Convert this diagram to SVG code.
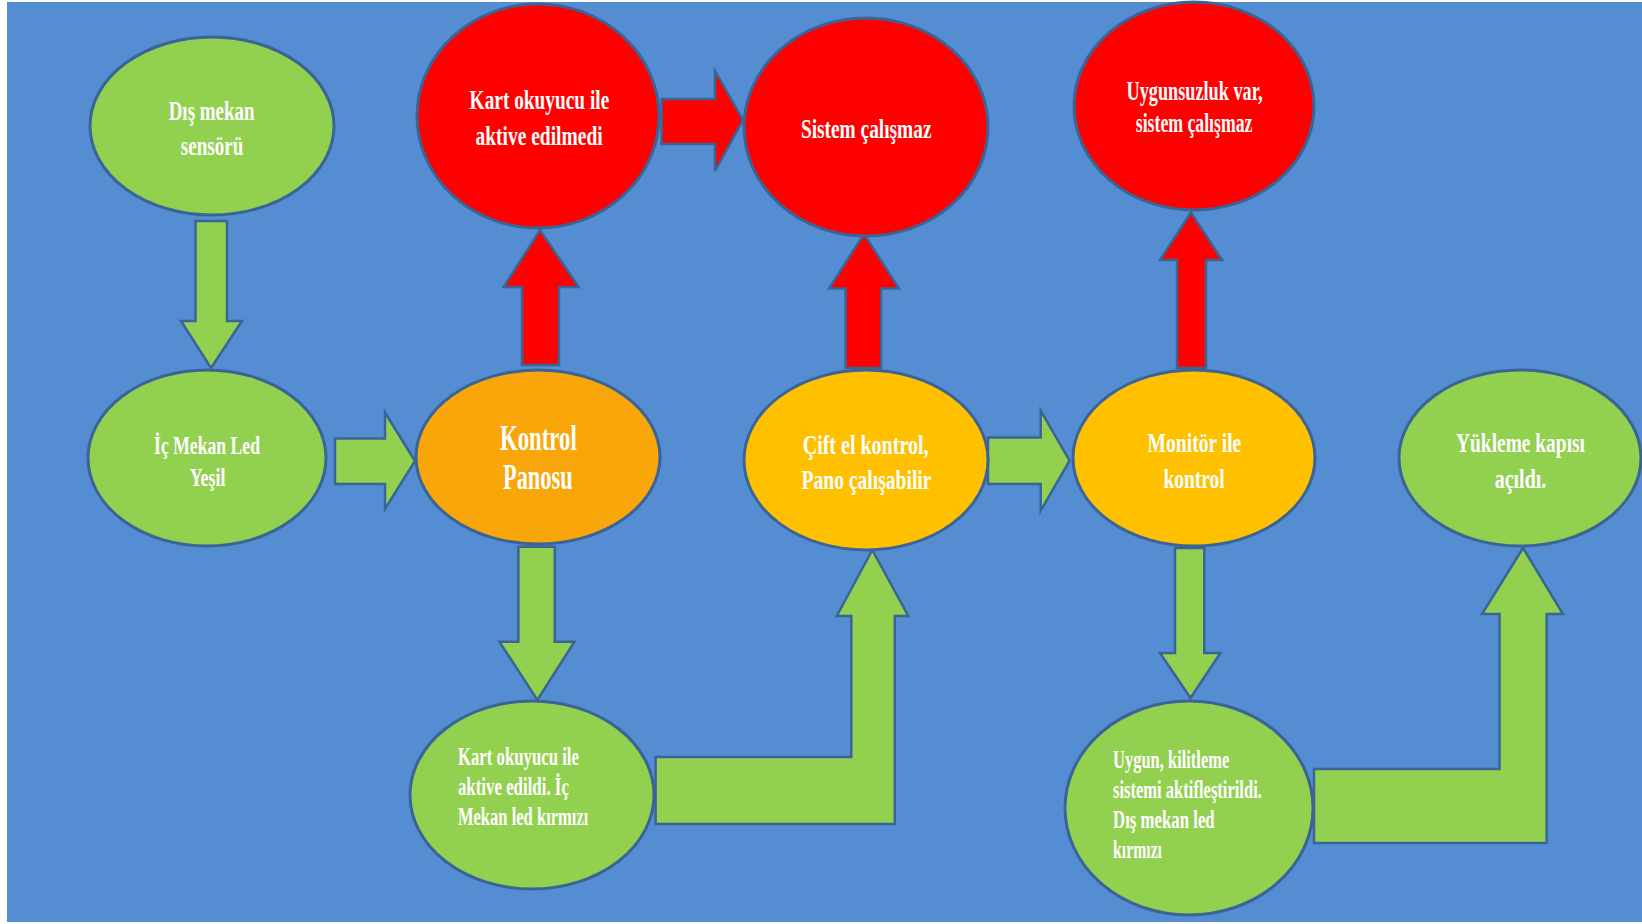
<svg xmlns="http://www.w3.org/2000/svg" width="1642" height="924" viewBox="0 0 1642 924">
<style>
.node{stroke:#3b6496;stroke-width:3}
.g{fill:#92d050}
.r{fill:#ff0000}
.o{fill:#f9a60a}
.y{fill:#ffc000}
.arr{stroke:#3b6496;stroke-width:2.5;stroke-linejoin:miter}
text{font-family:"Liberation Serif","Times New Roman",serif;font-weight:bold;fill:#ffffff}
.c{text-anchor:start}
</style>
<rect x="0" y="0" width="1642" height="924" fill="#ffffff"/>
<rect x="7" y="2" width="1635" height="920" fill="#558dd3"/>

<g id="connectors">
<polygon class="arr g" points="195.5,221 227,221 227,321 242,321 211,368 181,321 195.5,321"/>
<polygon class="arr g" points="335,438.6 385,438.6 385,412.5 415,461 385,509 385,484 335,484"/>
<polygon class="arr r" points="522,365 522,287 503.6,287 540,230 578.6,287 559,287 559,365"/>
<polygon class="arr r" points="661.6,99 715,99 715,71 743,120 715,171 715,144 661.6,144"/>
<polygon class="arr r" points="845.6,368 845.6,288.6 829,288.6 864,234 899,288.6 881,288.6 881,368"/>
<polygon class="arr r" points="1177,368 1177,260 1160,260 1191,212.5 1222,260 1206,260 1206,368"/>
<polygon class="arr g" points="988,437.5 1040.7,437.5 1040.7,410.7 1069.6,460.7 1040.7,510.7 1040.7,484 988,484"/>
<polygon class="arr g" points="518.4,546.7 554.8,546.7 554.8,641.7 574.5,641.7 537.4,700 499.4,641.7 518.4,641.7"/>
<polygon class="arr g" points="655.6,757 851.3,757 851.3,616 836.7,616 872.3,550 908.3,616 894.8,616 894.8,824 655.6,824"/>
<polygon class="arr g" points="1175,548 1204.3,548 1204.3,653 1220.4,653 1190.5,698 1160,653 1175,653"/>
<polygon class="arr g" points="1314,769 1499.5,769 1499.5,614 1482,614 1523,548 1563,614 1546.7,614 1546.7,843 1314,843"/>
</g>

<g id="dis-mekan-sensoru">
<ellipse class="node g" cx="212" cy="126" rx="122" ry="89"/>
<text x="168.7" y="119.6" font-size="27" textLength="85.8" lengthAdjust="spacingAndGlyphs">Dış mekan</text>
<text x="180.8" y="155.4" font-size="27" textLength="62.5" lengthAdjust="spacingAndGlyphs">sensörü</text>
</g>

<g id="ic-mekan-led">
<ellipse class="node g" cx="207" cy="458" rx="119" ry="88"/>
<text x="154" y="453.6" font-size="25" textLength="106" lengthAdjust="spacingAndGlyphs">İç Mekan Led</text>
<text x="189.7" y="485.7" font-size="25" textLength="35.7" lengthAdjust="spacingAndGlyphs">Yeşil</text>
</g>

<g id="kontrol-panosu">
<ellipse class="node o" cx="538" cy="457" rx="122" ry="87"/>
<text x="500" y="450" font-size="35" textLength="76.8" lengthAdjust="spacingAndGlyphs">Kontrol</text>
<text x="503" y="489.3" font-size="35" textLength="69.6" lengthAdjust="spacingAndGlyphs">Panosu</text>
</g>

<g id="kart-aktive-edilmedi">
<ellipse class="node r" cx="538" cy="116" rx="121" ry="112"/>
<text x="469.6" y="109" font-size="28" textLength="139.7" lengthAdjust="spacingAndGlyphs">Kart okuyucu ile</text>
<text x="475.4" y="144.6" font-size="28" textLength="127.3" lengthAdjust="spacingAndGlyphs">aktive edilmedi</text>
</g>

<g id="sistem-calismaz">
<ellipse class="node r" cx="866" cy="127" rx="122" ry="109"/>
<text x="800.9" y="137.5" font-size="28" textLength="130.6" lengthAdjust="spacingAndGlyphs">Sistem çalışmaz</text>
</g>

<g id="uygunsuzluk-var">
<ellipse class="node r" cx="1194" cy="106" rx="120" ry="104"/>
<text x="1126.6" y="100" font-size="27" textLength="136" lengthAdjust="spacingAndGlyphs">Uygunsuzluk var,</text>
<text x="1135.8" y="132" font-size="27" textLength="116.6" lengthAdjust="spacingAndGlyphs">sistem çalışmaz</text>
</g>

<g id="cift-el-kontrol">
<ellipse class="node y" cx="866" cy="460" rx="122" ry="90"/>
<text x="802.7" y="453.6" font-size="27" textLength="125.8" lengthAdjust="spacingAndGlyphs">Çift el kontrol,</text>
<text x="801.5" y="488.6" font-size="27" textLength="130" lengthAdjust="spacingAndGlyphs">Pano çalışabilir</text>
</g>

<g id="monitor-ile-kontrol">
<ellipse class="node y" cx="1194" cy="458" rx="121" ry="88"/>
<text x="1147.5" y="451.8" font-size="27" textLength="93.8" lengthAdjust="spacingAndGlyphs">Monitör ile</text>
<text x="1163.4" y="487.5" font-size="27" textLength="61.4" lengthAdjust="spacingAndGlyphs">kontrol</text>
</g>

<g id="yukleme-kapisi">
<ellipse class="node g" cx="1520" cy="458" rx="121" ry="88"/>
<text x="1456" y="451.8" font-size="27" textLength="129" lengthAdjust="spacingAndGlyphs">Yükleme kapısı</text>
<text x="1494.7" y="487.5" font-size="27" textLength="51.6" lengthAdjust="spacingAndGlyphs">açıldı.</text>
</g>

<g id="kart-aktive-edildi">
<ellipse class="node g" cx="532" cy="795" rx="122" ry="94"/>
<text x="457.9" y="765" font-size="26" textLength="121" lengthAdjust="spacingAndGlyphs">Kart okuyucu  ile</text>
<text x="457.9" y="795" font-size="26" textLength="111" lengthAdjust="spacingAndGlyphs">aktive edildi.  İç</text>
<text x="457.9" y="825" font-size="26" textLength="130.5" lengthAdjust="spacingAndGlyphs">Mekan led kırmızı</text>
</g>

<g id="uygun-kilitleme">
<ellipse class="node g" cx="1189" cy="808" rx="124" ry="107"/>
<text x="1113" y="768.3" font-size="26" textLength="116.3" lengthAdjust="spacingAndGlyphs">Uygun, kilitleme</text>
<text x="1113" y="797.7" font-size="26" textLength="148.9" lengthAdjust="spacingAndGlyphs">sistemi aktifleştirildi.</text>
<text x="1113" y="828.3" font-size="26" textLength="101.7" lengthAdjust="spacingAndGlyphs">Dış mekan led</text>
<text x="1113" y="858.3" font-size="26" textLength="49" lengthAdjust="spacingAndGlyphs">kırmızı</text>
</g>
</svg>
